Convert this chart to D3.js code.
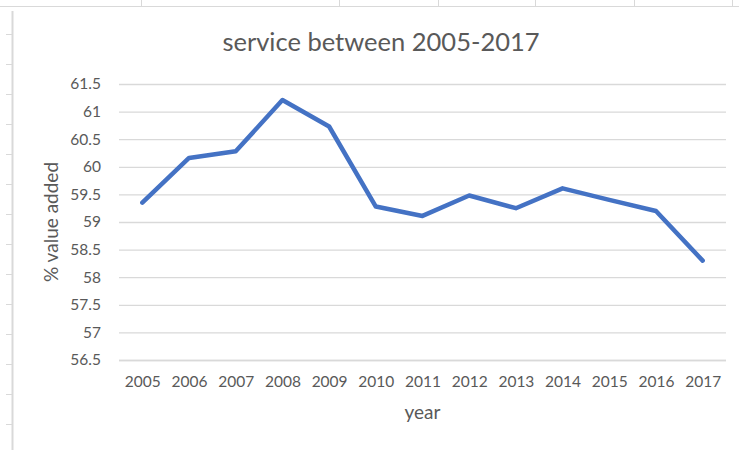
<!DOCTYPE html>
<html>
<head>
<meta charset="utf-8">
<script src="https://cdn.jsdelivr.net/npm/d3@7/dist/d3.min.js"></script>
<style>
html,body{margin:0;padding:0;background:#fff;}
svg{display:block;font-family:Lato, "Open Sans", sans-serif;}
</style>
</head>
<body>
<svg id="chart" width="739" height="450"></svg>
<script>
const years = ["2005","2006","2007","2008","2009","2010","2011","2012","2013","2014","2015","2016","2017"];
const values = [59.35, 60.16, 60.28, 61.21, 60.73, 59.28, 59.11, 59.48, 59.25, 59.61, 59.40, 59.20, 58.30];
const yTicks = [56.5, 57, 57.5, 58, 58.5, 59, 59.5, 60, 60.5, 61, 61.5];
const title = "service between 2005-2017";
const xTitle = "year";
const yTitle = "% value added";

const svg = d3.select("#chart");
const W = 739, H = 450;
const plot = {left: 119, right: 726, top: 84, bottom: 360};

// spreadsheet background lines
const sheet = svg.append("g").attr("stroke", "#d9d9d9").attr("stroke-width", 1);
sheet.append("line").attr("x1", 0).attr("x2", W).attr("y1", 6.5).attr("y2", 6.5);
[141, 339, 438, 535, 634, 732].forEach(x => {
  sheet.append("line").attr("x1", x + 0.5).attr("x2", x + 0.5).attr("y1", 0).attr("y2", 6);
});
for (let y = 34; y < H; y += 30) {
  sheet.append("line").attr("x1", 6).attr("x2", 12).attr("y1", y + 0.5).attr("y2", y + 0.5);
}
// chart border (left edge)
svg.append("path")
  .attr("d", `M12.5,${H} L12.5,11`)
  .attr("fill", "none").attr("stroke", "#d9d9d9").attr("stroke-width", 2);

const x = d3.scalePoint().domain(years).range([plot.left, plot.right]).padding(0.5);
const y = d3.scaleLinear().domain([56.5, 61.5]).range([plot.bottom, plot.top]);

// gridlines
const grid = d3.axisLeft(y).tickValues(yTicks).tickSize(-(plot.right - plot.left)).tickFormat("");
svg.append("g").attr("transform", `translate(${plot.left},0)`).call(grid)
  .call(g => g.select(".domain").remove())
  .call(g => g.selectAll("line").attr("stroke", "#d9d9d9").attr("stroke-width", 1.3));

// y tick labels
const yAxis = d3.axisLeft(y).tickValues(yTicks).tickSize(0).tickPadding(18)
  .tickFormat(d => d3.format("")(d));
svg.append("g").attr("transform", `translate(${plot.left},0)`).call(yAxis)
  .call(g => g.select(".domain").remove())
  .call(g => g.selectAll("text").attr("fill", "#595959").attr("font-size", "15.5px").attr("font-family", "Lato"));

// x axis
const xAxis = d3.axisBottom(x).tickSize(0).tickPadding(16);
svg.append("g").attr("transform", `translate(0,${plot.bottom})`).call(xAxis)
  .call(g => g.select(".domain").attr("stroke", "#d9d9d9").attr("stroke-width", 1.3)
     .attr("d", `M${plot.left},0.5H${plot.right}`))
  .call(g => g.selectAll("text").attr("fill", "#595959").attr("font-size", "15.5px").attr("font-family", "Lato"));

// line
const line = d3.line().x((d, i) => x(years[i])).y(d => y(d));
svg.append("path").datum(values)
  .attr("d", line)
  .attr("fill", "none")
  .attr("stroke", "#4472C4")
  .attr("stroke-width", 4.5)
  .attr("stroke-linejoin", "round")
  .attr("stroke-linecap", "round");

// titles
svg.append("text").attr("x", 381).attr("y", 51).attr("text-anchor", "middle")
  .attr("fill", "#595959").attr("font-size", "25.5px").text(title);
svg.append("text").attr("x", (plot.left + plot.right) / 2).attr("y", 419).attr("text-anchor", "middle")
  .attr("fill", "#595959").attr("font-size", "19px").text(xTitle);
svg.append("text").attr("transform", "translate(58,222) rotate(-90)").attr("text-anchor", "middle")
  .attr("fill", "#595959").attr("font-size", "19px").text(yTitle);
</script>
</body>
</html>
